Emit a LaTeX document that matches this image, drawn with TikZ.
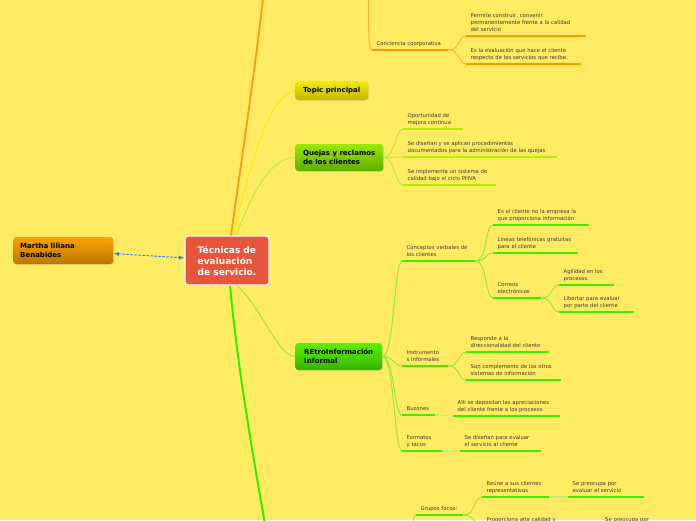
\documentclass[tikz,border=0pt]{standalone}
\usepackage{fontspec}
\setmainfont{DejaVu Sans}
\usetikzlibrary{shadows}

\definecolor{bg}{HTML}{FFEA64}
\definecolor{txt}{HTML}{3D3A2A}
\definecolor{tecred}{HTML}{E8553D}
\definecolor{mtop}{HTML}{F9A200}
\definecolor{mbot}{HTML}{BC7600}
\definecolor{ytop}{HTML}{F4EC00}
\definecolor{ybot}{HTML}{C6B500}
\definecolor{ltop}{HTML}{9CE800}
\definecolor{lbot}{HTML}{5FAD00}
\definecolor{gtop}{HTML}{5CF000}
\definecolor{gbot}{HTML}{36B400}
\definecolor{ormain}{HTML}{FF9A10}
\definecolor{orthin}{HTML}{FFB23A}
\definecolor{orline}{HTML}{FF9700}
\definecolor{yeline}{HTML}{F4F000}
\definecolor{lithin}{HTML}{B4F032}
\definecolor{liline}{HTML}{AEF000}
\definecolor{grmain}{HTML}{30EE00}
\definecolor{grthin}{HTML}{8EEC3A}
\definecolor{grline}{HTML}{3EEE00}
\definecolor{grpale}{HTML}{C6EE70}
\definecolor{mblue}{HTML}{2E86DE}

\newcommand{\leaffont}{\fontsize{5.3}{7}\selectfont}
\newcommand{\boxfont}{\bfseries\fontsize{7}{9}\selectfont}
\newcommand{\tecfont}{\bfseries\fontsize{9}{11}\selectfont}

\tikzset{
  box/.style={rounded corners=3pt, align=left, font=\boxfont, inner xsep=7pt,
    drop shadow={shadow xshift=0.6pt, shadow yshift=-0.8pt, opacity=0.2}},
  leaf/.style={anchor=south west, text width=#1, align=left, font=\leaffont, text=txt,
    inner xsep=4.5pt, inner ysep=2pt, execute at end node=\strut},
  br/.style={out=0, in=180, out distance=12pt, in distance=8pt},
  obr/.style={draw=ormain, line width=1.8pt},
  gmain/.style={draw=grmain, line width=2pt},
  ycon/.style={draw=yeline, line width=1pt},
  ocon/.style={draw=orthin, line width=0.9pt},
  lcon/.style={draw=lithin, line width=1pt},
  gcon/.style={draw=grthin, line width=0.9pt},
  pcon/.style={draw=grpale, line width=1.4pt},
  oul/.style={draw=orline, line width=2pt},
  lul/.style={draw=liline, line width=2pt},
  gul/.style={draw=grline, line width=2pt},
  mline/.style={draw=mblue, line width=0.9pt, dash pattern=on 2.5pt off 1.5pt, <->, >=latex}
}

\begin{document}
\begin{tikzpicture}[x=1pt, y=1pt]
\useasboundingbox (0,0) rectangle (696,-520);
\fill[bg] (0,0) rectangle (696,-520);
\clip (0,0) rectangle (696,-520);

\coordinate (topoff) at (264,10);
\coordinate (botoff) at (266,-530);
\coordinate (ccup) at (368.5,5);
\coordinate (gfdown) at (413.5,-530);

\node[name=tec, box, font=\tecfont, fill=tecred, draw=white, line width=1.2pt, text=white, minimum width=84pt, minimum height=49pt] at (227,-260.5) {Técnicas de\\evaluación\\de servicio.};
\node[name=martha, box, top color=mtop, bottom color=mbot, text width=86pt, minimum height=27pt, anchor=west] at (13,-250.5) {Martha liliana\\Benabides};
\node[name=topic, box, top color=ytop, bottom color=ybot, minimum width=73pt, minimum height=19pt, anchor=west] at (295,-90.5) {Topic principal};
\node[name=quejas, box, top color=ltop, bottom color=lbot, minimum width=88pt, minimum height=27pt, anchor=west] at (295,-157.5) {Quejas y reclamos\\de los clientes};
\node[name=retro, box, top color=gtop, bottom color=gbot, minimum width=87pt, minimum height=27pt, anchor=west] at (295,-356.5) {REtroInformación\\Informal};

\node[name=cc, leaf=67pt] at (372,-50) {Conciencia coorporativa};
\node[name=pc, leaf=111pt] at (466,-36) {Permite construir, convenir\\permanentemente frente a la calidad\\del servicio};
\node[name=ev, leaf=106pt] at (466,-64) {Es la evaluación que hace el cliente\\respecto de los servicios que recibe.};

\node[name=om, leaf=51pt] at (403,-129) {Oportunidad de\\mejora continua};
\node[name=sd, leaf=145pt] at (403,-157) {Se diseñan y se aplican procedimientos\\documentados para la administración de las quejas};
\node[name=si, leaf=84pt] at (403,-185) {Se implementa un sistema de\\calidad bajo el ciclo PHVA};

\node[name=cv, leaf=64pt] at (402,-261) {Conceptos verbales de\\los clientes};
\node[name=ec, leaf=87pt] at (493,-225) {Es el cliente no la empresa la\\que proporciona información};
\node[name=lt, leaf=76pt] at (493,-253) {Líneas telefónicas gratuitas\\para el cliente};
\node[name=ce, leaf=39pt] at (493,-298) {Correos\\electrónicos};
\node[name=ag, leaf=46pt] at (559,-285) {Agilidad en los\\procesos};
\node[name=lb, leaf=66pt] at (559,-312) {Libertar para evaluar\\por parte del cliente};
\node[name=ins, leaf=37pt] at (402,-366) {Instrumento\\s informales};
\node[name=rd, leaf=74pt] at (466,-352) {Responde a la\\direccionalidad del cliente};
\node[name=sc, leaf=86pt] at (466,-380) {Son complemento de los otros\\sistemas de información};
\node[name=bz, leaf=24pt] at (402,-415) {Buzones};
\node[name=al, leaf=98pt] at (453,-416) {Allí se depositan las apreciaciones\\del cliente frente a los procesos};
\node[name=ft, leaf=31pt] at (402,-451) {Formatos\\y tacos};
\node[name=sdn, leaf=72pt] at (460,-451) {Se diseñan para evaluar\\el servicio al cliente};

\node[name=gf, leaf=38pt] at (416,-515) {Grupos focos:};
\node[name=ru, leaf=58pt] at (482,-497) {Reúne a sus clientes\\representativos};
\node[name=sp, leaf=67pt] at (568,-497) {Se preocupa por\\evaluar el servicio};
\node[name=pa, leaf=71pt, anchor=north west] at (482,-514) {Proporciona alta calidad y};
\node[name=sq, leaf=51pt, anchor=north west] at (600.5,-514) {Se preocupa por};

\foreach \n in {cc,pc,ev} \draw[oul] (\n.south west) -- (\n.south east);
\foreach \n in {om,sd,si} \draw[lul] (\n.south west) -- (\n.south east);
\foreach \n in {cv,ec,lt,ce,ag,lb,ins,rd,sc,bz,al,ft,sdn,gf,ru,sp,pa,sq} \draw[gul] (\n.south west) -- (\n.south east);

\draw[mline] (martha) -- (tec);

\draw[obr] ([xshift=4pt]tec.north) .. controls (243,-150) and (255,-70) .. (topoff);
\draw[ycon] ([xshift=6pt]tec.north) .. controls (245,-190) and (265,-95) .. (topic.west);
\draw[lcon] ([xshift=9pt]tec.north) .. controls (250,-200) and (268,-157.5) .. (quejas.west);
\draw[gcon] ([xshift=10pt]tec.south) .. controls (262,-308) and (278,-356.5) .. (retro.west);
\draw[gmain] ([xshift=3pt]tec.south) .. controls (238,-370) and (252,-450) .. (botoff);

\draw(ccup) edge[ocon, out=-90, in=180, out distance=30pt, in distance=4pt](cc.south west);
\draw(cc.south east) edge[ocon, br](pc.south west);
\draw(cc.south east) edge[ocon, br](ev.south west);

\draw(quejas.east) edge[lcon, br](om.south west);
\draw(quejas.east) edge[lcon, br](sd.south west);
\draw(quejas.east) edge[lcon, br](si.south west);

\draw(retro.east) edge[gcon, br](cv.south west);
\draw(retro.east) edge[gcon, br](ins.south west);
\draw(retro.east) edge[gcon, br](bz.south west);
\draw(retro.east) edge[gcon, br](ft.south west);
\draw(cv.south east) edge[gcon, br](ec.south west);
\draw(cv.south east) edge[gcon, br](lt.south west);
\draw(cv.south east) edge[gcon, br](ce.south west);
\draw(ce.south east) edge[gcon, br](ag.south west);
\draw(ce.south east) edge[gcon, br](lb.south west);
\draw(ins.south east) edge[gcon, br](rd.south west);
\draw(ins.south east) edge[gcon, br](sc.south west);
\draw(bz.south east) edge[pcon](al.south west);
\draw(ft.south east) edge[pcon](sdn.south west);

\draw(gfdown) edge[gcon, out=90, in=180, out distance=10pt, in distance=3pt](gf.south west);
\draw(gf.south east) edge[gcon, br](ru.south west);
\draw(gf.south east) edge[gcon, br](pa.south west);
\draw(ru.south east) edge[pcon](sp.south west);
\draw(pa.south east) edge[pcon](sq.south west);
\end{tikzpicture}
\end{document}
